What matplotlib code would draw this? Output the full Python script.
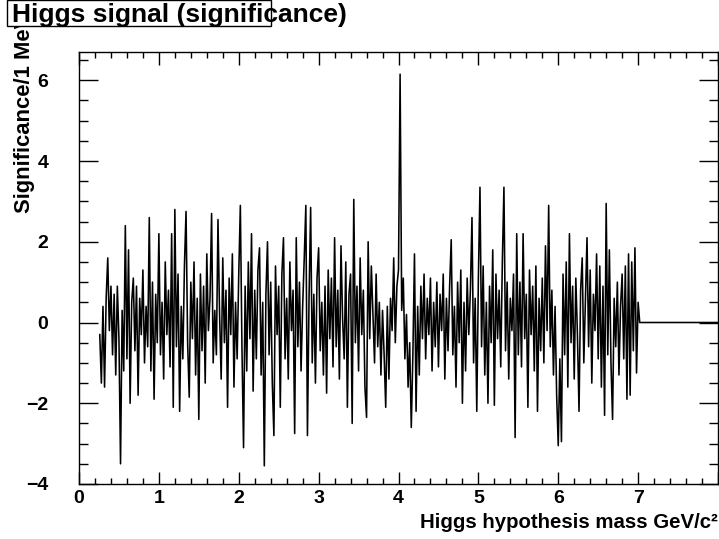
import numpy as np
import matplotlib
matplotlib.use("Agg")
import matplotlib.pyplot as plt
from matplotlib.patches import Rectangle
from matplotlib.ticker import MultipleLocator, FuncFormatter

# significance per bin, bins of 0.02 GeV starting at 0.26 GeV
mass_start = 0.26
mass_step = 0.02
signif = [
    -0.3, -1.5, 0.4, -1.6, 0.6, 1.6, -0.2, 0.9, -0.8, 0.7, -1.3, 0.9,
    -0.4, -3.5, 0.3, -1.2, 2.4, -0.9, 1.8, -2.0, 0.5, 1.1, -0.7, 0.9, -1.8,
    0.6, -0.3, 1.3, -1.0, 0.4, -0.6, 2.6, -1.2, 1.0, -1.9, 0.7, -0.5,
    2.2, -0.8, 0.5, -1.4, 1.5, -0.3, 0.8, -1.1, 2.2, -2.1, 2.8, -0.6, 1.2,
    -2.2, 0.4, -0.9, 1.4, 2.75, -0.5, -1.85, 1.0, -0.4, 1.5, -1.3, 0.6,
    -2.4, 1.2, -0.7, 0.9, -1.5, 1.7, -0.2, 0.6, 2.7, -1.0, 0.3, -0.8, 2.55,
    0.2, -1.4, 1.6, -0.5, 0.8, -2.1, 1.1, -0.3, 1.7, -1.6, 0.5, -0.9,
    1.2, 2.9, -0.6, -3.1, 0.9, -1.2, 1.5, -0.4, 2.2, -1.7, 0.8, -0.9, 1.3,
    1.85, -1.3, 0.5, -3.55, 0.7, 2.0, -0.8, 1.0, -1.5, -2.8, 1.4, -0.3,
    0.9, -2.1, 1.2, 2.1, -0.9, 0.6, -1.4, 1.5, -0.2, 0.8, -2.75, 2.1, -0.6,
    1.0, -1.2, 0.4, 1.6, 2.9, -2.8, 0.6, 2.85, -1.0, 0.7, -1.5, 1.1,
    1.85, -0.7, 0.5, -1.3, 0.9, -1.75, 1.3, -0.4, 1.1, -1.1, 2.1, -0.6, 0.8,
    -1.4, 1.9, 0.1, -0.9, 1.5, -2.1, 0.7, 1.2, -2.5, 3.05, -0.5, 0.9,
    -1.2, 1.6, -0.3, 0.8, -1.6, -2.35, 2.0, -0.4, 1.4, 0.2, -1.0, 1.2, -0.6,
    0.5, -1.3, 0.3, -0.8, -2.1, 0.4, -1.4, 0.6, -0.2, 1.6, -0.5, 0.9,
    1.3, 6.15, 0.3, 1.1, -0.9, 0.2, -1.6, -0.5, -2.6, -0.8, 1.7, -2.2, 0.4,
    -1.3, 0.9, -0.4, 1.2, -0.9, 0.6, -0.3, 1.1, -1.2, 0.5, -0.6, 1.0,
    -1.1, 0.7, -0.2, 1.2, -1.4, 0.6, -0.7, 0.9, 2.05, -0.8, 0.4, -1.6, 1.0,
    -0.5, 1.3, -2.0, 0.5, -1.2, 1.1, -0.3, 0.8, 2.6, -1.0, 0.6, -2.2,
    1.1, 3.35, -0.6, 1.4, -1.3, 0.5, -2.0, 0.9, -0.5, 1.8, -2.05, 1.2, -0.4,
    0.8, -1.1, 1.5, 3.35, -0.7, 1.0, -1.4, 0.6, -0.2, 1.2, -2.85, 2.2,
    -0.8, 1.0, -1.1, 2.2, -0.4, 0.7, -2.1, 1.3, -0.3, 0.9, -1.2, 1.4, -2.2,
    0.6, -0.7, 1.1, -1.0, 1.9, -0.2, 2.9, -0.6, 0.8, -1.3, 0.4, -1.8,
    -3.05, -0.9, -2.95, 1.2, -0.8, 1.5, -1.6, 2.2, -0.5, 0.9, -1.4, 1.1, -0.3,
    -2.2, 0.8, 1.6, -1.0, 0.5, 2.1, -0.6, 1.3, -1.5, 0.7, -0.2, 1.7,
    -0.9, 1.4, -1.6, 0.9, -2.3, 2.95, -0.8, 1.8, -1.0, -2.4, 0.6, -0.6, 1.0,
    -1.3, 0.4, 1.2, -0.9, 1.4, -1.9, 1.7, -1.8, 1.5, -0.7, 1.85, -1.25, 0.5,
]
# empty bins above 7 GeV
mass_tail = [7.02, 8.0]
signif_tail = [0.0, 0.0]

mass = mass_start + mass_step * np.arange(len(signif))
x = np.concatenate([mass, mass_tail])
y = np.concatenate([signif, signif_tail])

plt.rcParams["font.family"] = ["Liberation Sans", "DejaVu Sans"]
plt.rcParams["font.weight"] = "bold"

W, H = 719, 539
fig = plt.figure(figsize=(W / 100, H / 100), dpi=100)
ax = fig.add_axes([79 / W, 1 - 484 / H, 639 / W, 432 / H])

ax.plot(x, y, color="black", linewidth=1.15)

ax.set_xlim(0, 8)
ax.set_ylim(-4, 6.7)
ax.xaxis.set_major_locator(MultipleLocator(1))
ax.xaxis.set_minor_locator(MultipleLocator(0.2))
ax.yaxis.set_major_locator(MultipleLocator(2))
ax.yaxis.set_minor_locator(MultipleLocator(0.5))
# the label at the right edge (8) falls outside the canvas
ax.xaxis.set_major_formatter(FuncFormatter(lambda v, p: "" if v > 7.5 else f"{v:g}"))
ax.tick_params(axis="both", which="both", direction="in", top=True, right=True,
               width=1, labelsize=14)
ax.tick_params(axis="x", which="major", length=9, pad=4)
ax.tick_params(axis="x", which="minor", length=4.5)
ax.tick_params(axis="y", which="major", length=14, pad=22)
ax.tick_params(axis="y", which="minor", length=6.5)
for lab in ax.get_xticklabels() + ax.get_yticklabels():
    lab.set_fontweight("bold")
for s in ax.spines.values():
    s.set_linewidth(1)

fig.text(718 / W, 1 - 528 / H, "Higgs hypothesis mass GeV/c²", ha="right",
         va="baseline", fontsize=14.7, fontweight="bold")
fig.text(35 / W, 1 - 14 / H, "Significance/1 MeV", rotation=90, ha="right",
         va="top", fontsize=15.8, fontweight="bold")

# title box drawn over the y title, as in ROOT
fig.add_artist(Rectangle((7 / W, 1 - 26 / H), 264 / W, 26 / H,
                         transform=fig.transFigure, facecolor="white",
                         edgecolor="black", linewidth=1, zorder=5))
fig.text(12 / W, 1 - 22 / H, "Higgs signal (significance)", ha="left",
         va="baseline", fontsize=19, fontweight="bold", zorder=6)

fig.savefig("out.png", dpi=100)
